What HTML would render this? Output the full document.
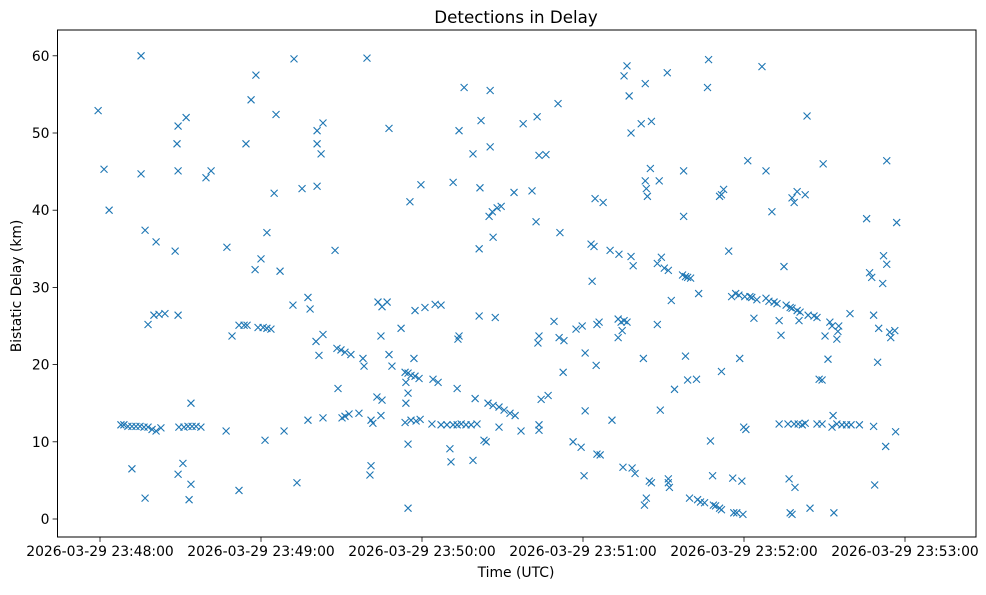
<!DOCTYPE html>
<html><head><meta charset="utf-8"><style>
html,body{margin:0;padding:0;background:#fff;}
svg text{font-family:"DejaVu Sans","Liberation Sans",sans-serif;fill:#000;}
</style></head><body>
<svg id="chart" width="986" height="590" viewBox="0 0 986 590" xmlns="http://www.w3.org/2000/svg">
<rect x="0" y="0" width="986" height="590" fill="#fff"/>
<text x="516" y="23" font-size="16.7" text-anchor="middle">Detections in Delay</text>
<g id="marks"></g>
<g id="axes"></g>
<text x="516" y="577" font-size="13.9" text-anchor="middle">Time (UTC)</text>
<text x="0" y="0" font-size="13.9" text-anchor="middle" transform="translate(21,286) rotate(-90)">Bistatic Delay (km)</text>
</svg>
<script>
const xTickLabels=["2026-03-29 23:48:00","2026-03-29 23:49:00","2026-03-29 23:50:00","2026-03-29 23:51:00","2026-03-29 23:52:00","2026-03-29 23:53:00"];
const xTickValues=[0,60,120,180,240,300];
const yTickValues=[0,10,20,30,40,50,60];
const timesSec=[-0.7,1.5,3.4,15.3,15.3,16.8,20.9,17.9,20.1,22.0,24.2,11.9,16.8,29.1,28.7,32.1,29.1,28.0,29.1,29.1,30.9,33.2,33.9,33.9,39.5,41.4,47.3,49.2,51.8,53.7,54.8,47.0,51.8,54.4,56.3,58.1,57.8,60.0,62.2,64.9,65.6,67.1,58.9,60.8,62.2,63.7,61.5,68.6,72.3,71.9,73.4,75.3,77.5,78.3,80.5,80.9,80.9,82.4,83.1,80.9,81.6,83.1,77.5,83.1,87.6,88.3,89.8,91.3,93.5,88.7,90.2,91.3,92.8,96.5,99.5,98.0,98.4,101.0,101.7,101.0,100.6,103.6,105.1,107.0,104.7,103.2,104.7,107.7,107.7,108.8,105.1,112.2,113.7,114.8,115.9,117.4,118.9,114.0,113.7,114.8,114.8,115.5,119.6,117.0,117.4,114.0,114.8,115.9,117.8,119.3,121.1,123.7,124.1,126.0,124.9,127.1,127.1,129.3,131.6,133.1,134.6,136.4,138.3,131.6,133.4,133.8,133.8,135.7,133.1,130.4,130.8,139.0,141.3,141.6,142.0,141.3,139.8,139.0,140.5,145.4,145.4,145.0,146.2,148.0,149.5,146.5,147.3,143.9,143.1,144.6,146.5,148.7,150.6,152.8,154.7,148.7,154.3,157.7,156.9,161.0,162.9,162.5,163.6,163.2,163.6,164.4,163.6,163.6,166.2,167.0,169.2,170.7,171.4,171.1,172.6,172.9,176.3,177.4,179.3,180.8,180.4,180.8,179.7,183.0,184.1,183.4,184.5,185.2,186.0,184.9,185.2,186.4,187.5,190.1,190.8,193.4,193.1,194.2,195.3,196.4,193.1,194.6,194.9,195.3,196.4,197.2,197.9,198.3,199.4,197.9,198.7,201.7,203.2,203.2,203.6,204.0,205.1,205.5,202.5,202.9,203.6,204.7,205.5,207.7,208.8,207.7,209.2,208.4,210.3,211.4,211.8,212.9,211.8,211.8,212.2,214.1,217.5,217.5,217.1,218.2,219.0,220.1,218.2,219.0,219.7,223.1,222.3,222.7,223.8,225.3,226.4,226.8,227.5,228.3,228.6,229.4,230.9,231.6,231.6,232.4,230.9,231.6,234.3,235.4,235.8,236.2,236.9,237.3,238.1,238.4,239.2,239.6,239.9,240.7,241.4,240.3,242.2,242.9,243.7,244.8,246.7,248.2,248.2,249.3,250.4,251.2,252.3,253.1,253.8,254.9,255.7,257.2,257.9,259.8,260.9,262.8,263.5,259.8,257.9,258.7,260.5,259.0,256.8,256.4,257.2,257.9,258.7,260.2,261.7,262.8,263.9,264.6,266.1,267.2,268.0,269.1,269.5,270.2,271.3,272.0,272.8,273.2,272.8,273.5,274.6,276.5,278.2,279.9,274.6,275.3,279.5,275.0,283.0,285.7,286.8,287.6,288.3,288.7,288.3,290.2,289.8,291.7,292.0,293.2,293.2,292.8,294.3,294.7,296.2,296.9,296.5,267.2,269.1,253.1,7.8,8.9,10.4,11.9,13.4,14.9,16.4,17.9,19.4,20.9,22.7,29.4,31.3,32.8,34.3,35.8,37.6];
const delaysKm=[52.9,45.3,40.0,60.0,44.7,37.4,35.9,25.2,26.4,26.5,26.6,6.5,2.7,50.9,48.6,52.0,45.1,34.7,26.4,5.8,7.2,2.5,4.5,15.0,44.2,45.1,35.2,23.7,25.1,25.1,25.1,11.4,3.7,48.6,54.3,57.5,32.3,33.7,37.1,42.2,52.4,32.1,24.8,24.8,24.7,24.6,10.2,11.4,59.6,27.7,4.7,42.8,28.7,27.2,23.0,50.3,48.6,47.3,51.3,43.1,21.2,23.9,12.8,13.1,34.8,22.1,21.9,21.6,21.3,16.9,13.1,13.3,13.6,13.7,59.7,20.8,19.8,12.8,12.4,6.9,5.7,28.1,27.5,28.1,23.7,15.8,13.4,50.6,21.3,19.8,15.4,24.7,19.0,18.9,18.6,18.5,18.2,15.0,12.5,9.7,1.4,41.1,43.3,20.8,27.0,17.7,16.3,12.8,12.7,12.9,27.4,12.3,18.1,17.7,27.8,27.7,12.2,12.2,12.2,12.2,12.3,12.2,12.2,43.6,23.3,23.7,50.3,55.9,16.9,9.1,7.4,47.3,35.0,42.9,51.6,26.3,15.6,7.6,12.3,55.5,48.2,39.2,39.8,40.3,40.5,36.5,26.1,10.0,10.2,15.0,14.7,14.5,14.1,13.7,13.4,11.9,42.3,51.2,11.4,42.5,52.1,38.5,47.1,22.8,23.7,15.5,12.2,11.5,47.2,16.0,25.6,53.8,37.1,23.5,19.0,23.1,10.0,24.6,9.3,21.5,5.6,14.0,25.0,35.6,35.3,30.8,41.5,25.2,25.5,19.9,8.4,8.3,41.0,34.8,12.8,34.3,25.9,25.5,25.7,25.5,23.5,24.4,6.7,57.4,58.7,54.8,50.0,6.6,5.9,34.0,32.8,51.2,56.4,43.8,42.8,41.8,45.4,51.5,20.8,1.8,2.7,4.9,4.7,25.2,14.1,33.1,33.9,43.8,32.5,57.8,32.2,28.3,5.2,4.7,4.1,16.8,45.1,39.2,31.6,31.4,31.3,31.2,21.1,18.0,2.7,29.2,18.1,2.5,2.2,2.1,55.9,59.5,10.1,5.6,1.8,1.7,1.4,19.1,42.0,42.7,41.8,1.2,34.7,28.8,5.3,0.8,29.2,0.8,29.0,20.8,4.9,0.6,11.9,11.6,46.4,28.8,28.8,28.7,26.0,28.4,58.6,45.1,28.6,28.2,39.8,28.1,27.9,25.7,23.8,32.7,27.7,27.4,27.3,27.0,26.8,42.0,52.2,42.4,41.6,41.0,25.7,4.1,5.2,12.3,0.8,0.6,12.3,12.3,12.2,12.4,26.4,1.4,26.3,26.1,18.1,18.0,46.0,23.7,20.7,25.5,25.0,13.4,11.9,0.8,12.3,12.2,12.2,12.2,23.3,25.0,26.6,24.3,12.2,38.9,31.9,31.3,12.0,4.4,26.4,24.7,20.3,30.5,34.1,33.0,46.4,9.4,24.2,23.5,24.4,38.4,11.3,12.3,12.3,12.3,12.2,12.2,12.0,12.0,12.0,12.0,11.9,11.9,11.6,11.4,11.8,11.9,11.9,12.0,12.0,12.0,11.9];

const NS="http://www.w3.org/2000/svg";
const L=57.5,R=976,T=30,B=537;
function xScale(s){return 100+s*161/60;}
function yScale(k){return 519-k*7.72;}
const marks=document.getElementById('marks');
const axes=document.getElementById('axes');
function mk(tag,attrs,parent){const e=document.createElementNS(NS,tag);for(const k in attrs)e.setAttribute(k,attrs[k]);parent.appendChild(e);return e;}
for(let i=0;i<timesSec.length;i++){
  const cx=xScale(timesSec[i]),cy=yScale(delaysKm[i]),d=3.5;
  const p=mk('path',{d:`M${cx-d},${cy-d}L${cx+d},${cy+d}M${cx-d},${cy+d}L${cx+d},${cy-d}`,stroke:'#1f77b4','stroke-width':1.1,fill:'none'},marks);
  
  
}
const frame=mk('rect',{x:L,y:T,width:R-L,height:B-T,fill:'none',stroke:'#000','stroke-width':1},axes);


xTickValues.forEach((v,i)=>{
  const x=xScale(v);
  const t=mk('line',{x1:x,x2:x,y1:B,y2:B+4.9,stroke:'#000','stroke-width':0.8},axes);
  
  
  const tx=mk('text',{x:x,y:B+19,'font-size':13.9,'text-anchor':'middle'},axes);
  tx.textContent=xTickLabels[i];
  
  
});
yTickValues.forEach(v=>{
  const y=yScale(v);
  const t=mk('line',{x1:L-4.9,x2:L,y1:y,y2:y,stroke:'#000','stroke-width':0.8},axes);
  
  
  const tx=mk('text',{x:L-8,y:y+5,'font-size':13.9,'text-anchor':'end'},axes);
  tx.textContent=String(v);
  
  
});
</script>
</body></html>
